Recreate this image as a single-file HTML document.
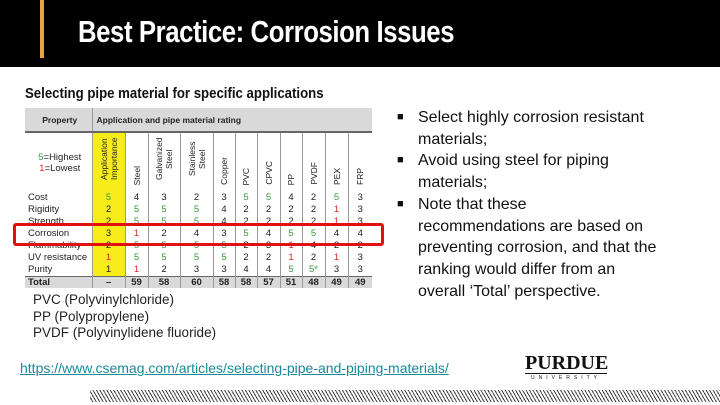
<!DOCTYPE html>
<html><head><meta charset="utf-8"><style>
body{margin:0;width:720px;height:405px;overflow:hidden;background:#fff;position:relative;font-family:"Liberation Sans",sans-serif}
.abs{position:absolute}
#hdr{left:0;top:0;width:720px;height:67px;background:#000}
#obar{left:40px;top:0;width:4px;height:58px;background:#e8a33d}
#title{left:78px;top:14px;color:#fff;font-weight:bold;font-size:31px;font-family:"Liberation Sans Narrow","Liberation Sans",sans-serif;transform:scaleX(0.83);transform-origin:left top;white-space:nowrap;letter-spacing:-0.5px}
#ttl2{left:25px;top:85px;font-weight:bold;font-size:15px;color:#111;white-space:nowrap;transform:scaleX(0.88);transform-origin:left top}
table{position:absolute;left:25px;top:108px;border-collapse:collapse;font-size:9.5px;color:#222;table-layout:fixed}
td{padding:0;text-align:center;height:12px;line-height:12px;border-left:1px solid #999}
td.p{text-align:left;padding-left:3px;border-left:none}
.y{background:#f5ec1a}
.g{color:#3a9a3a}.r{color:#d22}
.h1 td{background:#d9d9d9;height:23px;font-weight:bold;font-size:8.5px;border-bottom:2px solid #666}
.h2 td{height:55px;vertical-align:bottom}
.v{writing-mode:vertical-rl;transform:rotate(180deg);display:inline-block;line-height:10px;padding-top:3px;font-size:8.5px}
.tot td{background:#d9d9d9;font-weight:bold;border-top:1px solid #666;height:11px;line-height:11px}
#redbox{left:13px;top:223px;width:365px;height:17px;border:3px solid #e01010;border-radius:3px}
#bul{left:395px;top:107px;width:310px;font-size:16px;line-height:21.7px;color:#111;white-space:nowrap}
.b{position:relative;padding-left:23px}
.b span{position:absolute;left:2px;top:0;font-size:11px}
#foot{left:33px;top:292px;font-size:13.5px;line-height:16.5px;color:#222}
#link{left:20px;top:360px;font-size:14px;color:#1a8a9a;text-decoration:underline;white-space:nowrap}
#logo{left:525px;top:353px;width:82px;text-align:center;color:#111}
#hatch{left:90px;top:390px;width:630px;height:12px;background:repeating-linear-gradient(60deg,#fff 0,#fff 2px,#444 2px,#444 3px)}
</style></head><body>
<div id="hdr" class="abs"></div>
<div id="obar" class="abs"></div>
<div id="title" class="abs">Best Practice: Corrosion Issues</div>
<div id="ttl2" class="abs">Selecting pipe material for specific applications</div>
<table>
<colgroup><col style="width:67px"><col style="width:33px"><col style="width:23px"><col style="width:32px"><col style="width:33px"><col style="width:22px"><col style="width:22px"><col style="width:23px"><col style="width:22px"><col style="width:23px"><col style="width:23px"><col style="width:24px"></colgroup>
<tr class="h1"><td class="p" style="text-align:center;border-right:1px solid #999">Property</td><td colspan="11" style="text-align:left;padding-left:4px;border-left:none">Application and pipe material rating</td></tr>
<tr class="h2"><td class="p" style="vertical-align:middle;text-align:center;line-height:11px"><span class="g">5</span>=Highest<br><span class="r">1</span>=Lowest</td><td class="y"><span class="v">Application Importance</span></td><td><span class="v">Steel</span></td><td><span class="v">Galvanized Steel</span></td><td><span class="v">Stainless Steel</span></td><td><span class="v">Copper</span></td><td><span class="v">PVC</span></td><td><span class="v">CPVC</span></td><td><span class="v">PP</span></td><td><span class="v">PVDF</span></td><td><span class="v">PEX</span></td><td><span class="v">FRP</span></td></tr>
<tr><td class="p">Cost</td><td class="y g">5</td><td>4</td><td>3</td><td>2</td><td>3</td><td class="g">5</td><td class="g">5</td><td>4</td><td>2</td><td class="g">5</td><td>3</td></tr>
<tr><td class="p">Rigidity</td><td class="y">2</td><td class="g">5</td><td class="g">5</td><td class="g">5</td><td>4</td><td>2</td><td>2</td><td>2</td><td>2</td><td class="r">1</td><td>3</td></tr>
<tr><td class="p">Strength</td><td class="y">2</td><td class="g">5</td><td class="g">5</td><td class="g">5</td><td>4</td><td>2</td><td>2</td><td>2</td><td>2</td><td class="r">1</td><td>3</td></tr>
<tr><td class="p">Corrosion</td><td class="y">3</td><td class="r">1</td><td>2</td><td>4</td><td>3</td><td class="g">5</td><td>4</td><td class="g">5</td><td class="g">5</td><td>4</td><td>4</td></tr>
<tr><td class="p">Flammability</td><td class="y">2</td><td class="g">5</td><td class="g">5</td><td class="g">5</td><td class="g">5</td><td>2</td><td>3</td><td class="r">1</td><td>4</td><td>2</td><td>2</td></tr>
<tr><td class="p">UV resistance</td><td class="y r">1</td><td class="g">5</td><td class="g">5</td><td class="g">5</td><td class="g">5</td><td>2</td><td>2</td><td class="r">1</td><td>2</td><td class="r">1</td><td>3</td></tr>
<tr><td class="p">Purity</td><td class="y">1</td><td class="r">1</td><td>2</td><td>3</td><td>3</td><td>4</td><td>4</td><td class="g">5</td><td class="g">5*</td><td>3</td><td>3</td></tr>
<tr class="tot"><td class="p">Total</td><td>–</td><td>59</td><td>58</td><td>60</td><td>58</td><td>58</td><td>57</td><td>51</td><td>48</td><td>49</td><td>49</td></tr>
</table>
<div id="redbox" class="abs"></div>
<div id="bul" class="abs">
<div class="b"><span>■</span>Select highly corrosion resistant<br>materials;</div>
<div class="b"><span>■</span>Avoid using steel for piping<br>materials;</div>
<div class="b"><span>■</span>Note that these<br>recommendations are based on<br>preventing corrosion, and that the<br>ranking would differ from an<br>overall ‘Total’ perspective.</div>
</div>
<div id="foot" class="abs">PVC (Polyvinylchloride)<br>PP (Polypropylene)<br>PVDF (Polyvinylidene fluoride)</div>
<div id="link" class="abs">https://www.csemag.com/articles/selecting-pipe-and-piping-materials/</div>
<div id="logo" class="abs"><div style="font-family:'Liberation Serif',serif;font-weight:bold;font-size:20px;line-height:20px;border-bottom:1px solid #111">PURDUE</div><div style="font-size:5px;letter-spacing:4px;line-height:8px">UNIVERSITY</div></div>
<div id="hatch" class="abs"></div>
</body></html>
